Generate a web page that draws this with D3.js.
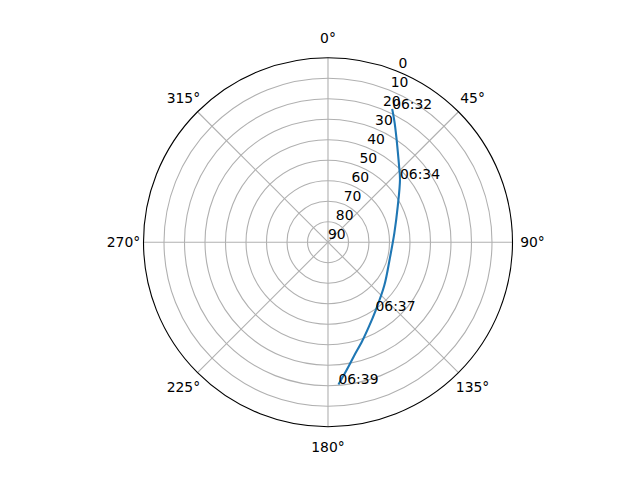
<!DOCTYPE html>
<html>
<head>
  <meta charset="utf-8">
  <title>pass</title>
  <style>
    body { margin: 0; background: white; }
    text { font-family: "DejaVu Sans", sans-serif; font-size: 13.9px; fill: black; }
  </style>
  <script src="https://d3js.org/d3.v7.min.js"></script>
</head>
<body>
  <script>
    // pass samples, every 30 s
    var times = ["06:32:00","06:32:30","06:33:00","06:33:30","06:34:00","06:34:30",
                 "06:35:00","06:35:30","06:36:00","06:36:30","06:37:00","06:37:30",
                 "06:38:00","06:38:30","06:39:00","06:39:30"];
    var azimuth = [25.7, 29.1, 33.0, 37.6, 42.8, 48.9, 62.7, 82.0, 105.2, 127.4,
                   145.3, 153.9, 161.0, 167.2, 171.7, 175.8];
    var elevation = [17.8, 23.2, 28.8, 34.2, 39.0, 43.4, 51.7, 57.3, 58.8, 55.4,
                     49.3, 44.4, 38.9, 33.0, 27.0, 20.4];
    var labelEvery = 5;

    var thetaTicks = [0, 45, 90, 135, 180, 225, 270, 315];
    var rTicks = [0, 10, 20, 30, 40, 50, 60, 70, 80, 90];

    var width = 640, height = 480;
    var cx = 328, cy = 242.2, R = 184.5;

    var svg = d3.select('body').append('svg')
      .attr('width', width)
      .attr('height', height);
    var g = svg.append('g').attr('transform', 'translate(' + cx + ',' + cy + ')');

    var r = d3.scaleLinear().domain([0, 90]).range([R, 0]);
    var rad = d => d * Math.PI / 180;
    var px = (a, rr) => rr * Math.sin(rad(a));
    var py = (a, rr) => -rr * Math.cos(rad(a));

    // circular grid
    g.selectAll('.rgrid')
      .data(rTicks.filter(d => d > 0 && d < 90))
      .enter().append('circle')
      .attr('r', d => r(d))
      .attr('fill', 'none')
      .attr('stroke', '#b0b0b0')
      .attr('stroke-width', 1.1);

    // spokes
    g.selectAll('.tgrid')
      .data(thetaTicks)
      .enter().append('line')
      .attr('x1', 0).attr('y1', 0)
      .attr('x2', d => px(d, R))
      .attr('y2', d => py(d, R))
      .attr('stroke', '#b0b0b0')
      .attr('stroke-width', 1.1);

    // outer frame
    g.append('circle')
      .attr('r', R)
      .attr('fill', 'none')
      .attr('stroke', 'black')
      .attr('stroke-width', 1.1);

    // angle labels
    g.selectAll('.tlab')
      .data(thetaTicks)
      .enter().append('text')
      .attr('x', d => px(d, R + 20))
      .attr('y', d => py(d, R + 20))
      .attr('text-anchor', 'middle')
      .attr('dominant-baseline', 'central')
      .text(d => d + '°');

    // radial labels at 22.5°
    g.selectAll('.rlab')
      .data(rTicks)
      .enter().append('text')
      .attr('x', d => px(22.5, r(d)))
      .attr('y', d => py(22.5, r(d)) - 3.5)
      .text(d => d);

    // track
    var pts = times.map((t, i) => ({t: t, az: azimuth[i], el: elevation[i]}));
    var line = d3.lineRadial()
      .angle(d => rad(d.az))
      .radius(d => r(d.el))
      .curve(d3.curveCatmullRom);

    g.append('path')
      .datum(pts)
      .attr('d', line)
      .attr('fill', 'none')
      .attr('stroke', '#1f77b4')
      .attr('stroke-width', 2.1);

    // time annotations
    g.selectAll('.ann')
      .data(pts.filter((d, i) => i % labelEvery == 0))
      .enter().append('text')
      .attr('x', d => px(d.az, r(d.el)))
      .attr('y', d => py(d.az, r(d.el)))
      .text(d => d.t.slice(0, 5));
  </script>
</body>
</html>
